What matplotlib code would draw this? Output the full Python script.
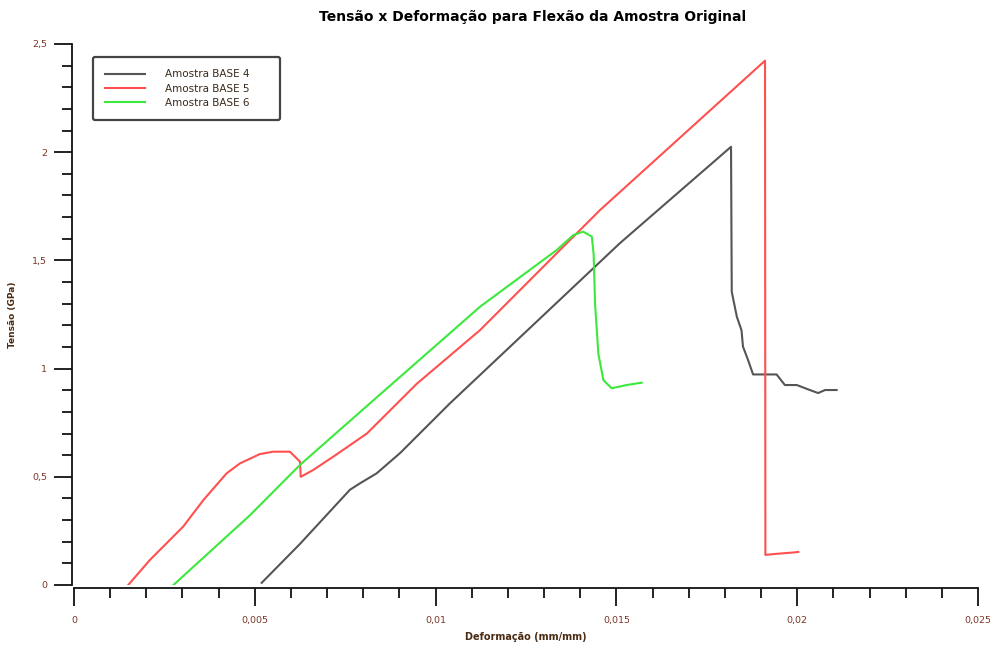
"""
Tensão x Deformação - flexão da amostra original (BASE 4, 5, 6)
Output: out.png
"""

import matplotlib
matplotlib.use("Agg")
import matplotlib.pyplot as plt
from matplotlib.ticker import MultipleLocator, FuncFormatter

# Dados (deformação mm/mm, tensão GPa)
def_base4 = [0.00519, 0.00625, 0.00763, 0.00791, 0.00837, 0.00902, 0.0104, 0.0151, 0.01817,
             0.01819, 0.01833, 0.01846, 0.0185, 0.01864, 0.01878, 0.01943, 0.01966,
             0.01999, 0.02035, 0.02058, 0.02077, 0.02109]
ten_base4 = [0.01, 0.19, 0.44, 0.47, 0.516, 0.61, 0.84, 1.58, 2.025,
             1.355, 1.24, 1.177, 1.102, 1.04, 0.973, 0.973, 0.924,
             0.924, 0.901, 0.887, 0.901, 0.901]

def_base5 = [0.0015, 0.0021, 0.00302, 0.00358, 0.00422, 0.00459, 0.00514, 0.00551,
             0.00597, 0.00625, 0.00627, 0.00661, 0.00717, 0.0081, 0.00948, 0.01123,
             0.01353, 0.01455, 0.01911, 0.01912, 0.01935, 0.01995, 0.02003]
ten_base5 = [0.0, 0.116, 0.27, 0.393, 0.516, 0.562, 0.605, 0.616,
             0.616, 0.57, 0.50, 0.531, 0.593, 0.70, 0.93, 1.178,
             1.563, 1.733, 2.423, 0.139, 0.143, 0.151, 0.153]

def_base6 = [0.00275, 0.00487, 0.00625, 0.00846, 0.01123, 0.01335, 0.01381, 0.01408,
             0.01432, 0.01437, 0.01441, 0.0145, 0.01464, 0.01487, 0.01528, 0.0157]
ten_base6 = [0.0, 0.323, 0.555, 0.88, 1.286, 1.548, 1.617, 1.633,
             1.61, 1.53, 1.30, 1.07, 0.947, 0.909, 0.924, 0.935]

series = [
    ("Amostra BASE 4", def_base4, ten_base4, "#555555"),
    ("Amostra BASE 5", def_base5, ten_base5, "#ff5050"),
    ("Amostra BASE 6", def_base6, ten_base6, "#3de83d"),
]

TICK_COLOR = "#7a3528"
LABEL_COLOR = "#4a2c14"


def virgula(v, pos):
    return ("%g" % v).replace(".", ",")


fig = plt.figure(figsize=(9.91, 6.46), dpi=100)
ax = fig.add_axes([74 / 991, 61 / 646, 904 / 991, 541 / 646])

for nome, x, y, cor in series:
    ax.plot(x, y, color=cor, lw=1.5, label=nome)

ax.set_xlim(0, 0.025)
ax.set_ylim(0, 2.5)

ax.xaxis.set_major_locator(MultipleLocator(0.005))
ax.xaxis.set_minor_locator(MultipleLocator(0.001))
ax.yaxis.set_major_locator(MultipleLocator(0.5))
ax.yaxis.set_minor_locator(MultipleLocator(0.1))
ax.xaxis.set_major_formatter(FuncFormatter(virgula))
ax.yaxis.set_major_formatter(FuncFormatter(virgula))

ax.spines["top"].set_visible(False)
ax.spines["right"].set_visible(False)
ax.spines["left"].set_position(("outward", 1.5))
ax.spines["bottom"].set_position(("outward", 2.5))
for s in ("left", "bottom"):
    ax.spines[s].set_linewidth(1.3)
    ax.spines[s].set_color("#111111")

ax.tick_params(axis="both", which="major", length=13, width=1.3, color="#111111",
               labelsize=6.8, labelcolor=TICK_COLOR)
ax.tick_params(axis="both", which="minor", length=7.5, width=1.3, color="#111111")
ax.tick_params(axis="x", which="major", pad=7)
ax.tick_params(axis="y", which="major", pad=5)

ax.set_xlabel("Deformação (mm/mm)", fontsize=7, fontweight="bold", color=LABEL_COLOR, labelpad=5)
ax.set_ylabel("Tensão (GPa)", fontsize=6.5, fontweight="bold", color=LABEL_COLOR, labelpad=11)

fig.suptitle("Tensão x Deformação para Flexão da Amostra Original",
             x=533 / 991, y=1 - 17 / 646, va="center", fontsize=10, fontweight="bold")

leg = ax.legend(loc="upper left", bbox_to_anchor=(0.021, 0.8595, 0.207, 0.1165),
                mode="expand", borderaxespad=0,
                fontsize=7.5, handlelength=3.8, handletextpad=1.9, borderpad=1.2,
                labelspacing=0.4, fancybox=True, framealpha=1)
leg.get_frame().set_edgecolor("#444444")
leg.get_frame().set_linewidth(1.6)
for t in leg.get_texts():
    t.set_color("#3a2a1a")

fig.savefig("out.png", dpi=100)
